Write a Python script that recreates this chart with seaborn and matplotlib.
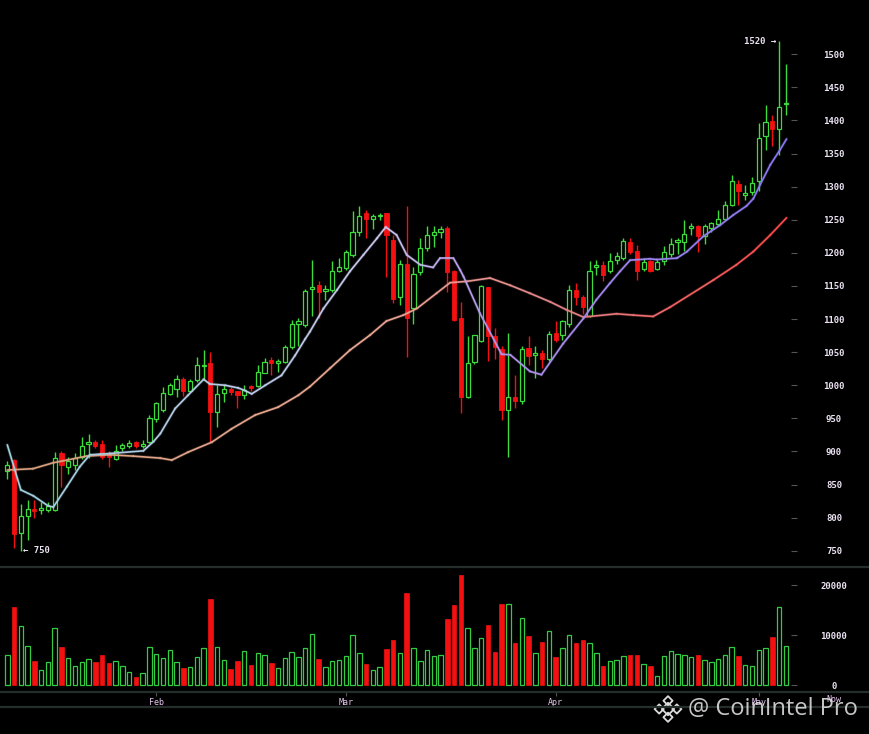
import numpy as np
import pandas as pd
import matplotlib.pyplot as plt
import matplotlib.colors as mcolors
from matplotlib.lines import Line2D
import seaborn as sns

# ------------------------------------------------------------
# data (daily candles, 10 Jan -> 5 May)
# ------------------------------------------------------------
opens = [871, 887, 777, 803, 813, 811, 811, 812, 898, 876, 880, 892, 911, 915, 911, 897, 888, 905, 908, 914,
         909, 915, 949, 962, 987, 995, 1010, 992, 1008, 1029, 1034, 960, 989, 995, 991, 985, 999, 999, 1019, 1038,
         1033, 1035, 1058, 1093, 1091, 1145, 1151, 1143, 1144, 1173, 1177, 1197, 1232, 1260, 1251, 1255, 1260, 1219, 1134, 1183,
         1117, 1171, 1207, 1227, 1232, 1237, 1173, 1102, 983, 1035, 1067, 1148, 1074, 1055, 963, 983, 976, 1056, 1045, 1049,
         1039, 1079, 1076, 1092, 1144, 1134, 1104, 1178, 1182, 1173, 1190, 1193, 1216, 1203, 1176, 1187, 1176, 1187, 1198, 1217,
         1217, 1238, 1240, 1226, 1238, 1243, 1251, 1273, 1304, 1288, 1292, 1308, 1376, 1399, 1387, 1425]
highs = [885, 889, 821, 827, 826, 823, 824, 899, 900, 891, 897, 922, 926, 917, 917, 900, 910, 913, 917, 916,
         917, 955, 975, 997, 1004, 1016, 1013, 1010, 1043, 1053, 1051, 1000, 1000, 997, 992, 1000, 1000, 1030, 1041, 1043,
         1040, 1061, 1098, 1101, 1146, 1189, 1158, 1152, 1187, 1192, 1204, 1263, 1271, 1265, 1258, 1260, 1260, 1227, 1189, 1271,
         1179, 1222, 1240, 1240, 1241, 1240, 1174, 1126, 1074, 1076, 1152, 1149, 1087, 1059, 1079, 1016, 1059, 1074, 1059, 1054,
         1082, 1097, 1099, 1151, 1154, 1137, 1187, 1190, 1188, 1200, 1201, 1223, 1222, 1212, 1192, 1189, 1191, 1211, 1223, 1222,
         1250, 1245, 1242, 1243, 1247, 1265, 1278, 1317, 1310, 1303, 1315, 1396, 1424, 1408, 1520, 1485]
lows = [858, 754, 750, 766, 800, 805, 808, 810, 847, 866, 872, 888, 890, 905, 888, 877, 887, 900, 905, 906,
        905, 913, 945, 960, 985, 982, 984, 990, 1005, 1008, 914, 937, 975, 986, 965, 980, 991, 997, 1018, 1015,
        1020, 1033, 1055, 1060, 1088, 1104, 1102, 1129, 1141, 1171, 1174, 1194, 1225, 1222, 1236, 1250, 1164, 1124, 1122, 1042,
        1092, 1167, 1203, 1209, 1223, 1141, 1097, 958, 981, 1032, 1065, 1036, 1040, 948, 891, 966, 972, 1031, 1011, 1026,
        1036, 1066, 1068, 1088, 1121, 1107, 1103, 1167, 1158, 1170, 1183, 1189, 1198, 1159, 1173, 1171, 1174, 1182, 1194, 1199,
        1203, 1227, 1201, 1214, 1232, 1241, 1250, 1271, 1272, 1280, 1287, 1293, 1355, 1362, 1348, 1409]
closes = [880, 776, 803, 813, 810, 814, 818, 890, 880, 885, 890, 908, 914, 908, 891, 892, 901, 910, 913, 908,
          912, 951, 973, 988, 1000, 1009, 992, 1006, 1030, 1031, 960, 987, 995, 990, 986, 993, 996, 1020, 1035, 1033,
          1036, 1058, 1093, 1097, 1143, 1148, 1141, 1146, 1173, 1178, 1202, 1232, 1256, 1251, 1256, 1256, 1227, 1131, 1183, 1101,
          1168, 1207, 1227, 1232, 1236, 1171, 1099, 983, 1034, 1076, 1150, 1075, 1058, 963, 983, 976, 1055, 1044, 1049, 1040,
          1077, 1069, 1097, 1144, 1134, 1119, 1173, 1181, 1167, 1188, 1195, 1218, 1201, 1172, 1186, 1173, 1186, 1201, 1213, 1219,
          1228, 1241, 1226, 1240, 1245, 1251, 1273, 1308, 1294, 1290, 1305, 1373, 1398, 1387, 1421, 1427]
volumes = [6070, 15670, 11870, 7940, 4870, 3070, 4600, 11400, 7740, 5470, 3870, 4600, 5270, 4670, 6000, 4470, 4940, 3870, 2730, 1670,
           2530, 7600, 6200, 5470, 7140, 4740, 3470, 3600, 5740, 7400, 17340, 7600, 5070, 3270, 4870, 6800, 4140, 6400, 6140, 4540,
           3400, 5470, 6600, 5740, 7470, 10200, 5340, 3600, 4940, 5070, 5940, 10000, 6400, 4340, 3070, 3740, 7200, 9070, 6400, 18400,
           7400, 4940, 7140, 5940, 6140, 13270, 16000, 22070, 11470, 7470, 9540, 12140, 6670, 16340, 16340, 8400, 13400, 9870, 6400, 8600,
           10870, 5670, 7470, 10000, 8400, 9070, 8400, 6400, 3870, 4940, 5070, 5940, 6000, 6000, 4200, 3800, 1940, 5870, 6940, 6270,
           6070, 5740, 6140, 5070, 4600, 5270, 6070, 7600, 5800, 4000, 3870, 7070, 7400, 9600, 15740, 7800]

# moving averages, read at the candle positions where the lines bend
fast_ma_x = [0, 2, 3.85, 6, 6.8, 8.8, 10.7, 12.2, 13.7, 15.2, 20.1, 21.6, 22.6, 24.8, 26.7, 29, 29.9, 32.2, 34.1, 35.1,
             36.1, 38.1, 40.5, 42.5, 44, 44.7, 46.7, 48.7, 50.6, 52.6, 54.6, 55.9, 57.5, 59, 61, 62.9, 63.9, 65.9, 66.9, 67.4,
             69.8, 73, 74.3, 77.2, 78.9, 82.1, 85.1, 87, 89, 90.5, 92, 94.9, 95.9, 98.9, 100.4, 102.8, 105.3, 107.2, 109.2, 110.2,
             111.2, 112.7, 114.1, 115.1]
fast_ma_y = [910, 842, 833, 818, 816, 847, 877, 895, 896, 897, 901, 915, 927, 965, 985, 1009, 1002, 1000, 996, 992,
             987, 1000, 1015, 1045, 1070, 1081, 1116, 1144, 1172, 1197, 1222, 1239, 1227, 1197, 1182, 1178, 1192, 1192, 1174, 1164,
             1109, 1047, 1046, 1021, 1016, 1063, 1101, 1129, 1154, 1172, 1189, 1191, 1190, 1192, 1202, 1225, 1242, 1257, 1271, 1282,
             1303, 1333, 1355, 1372]
slow_ma_x = [0, 3.8, 6.8, 8.8, 11.7, 15.2, 18.6, 22.6, 24.3, 26.7, 30.2, 33.1, 36.6, 40, 43, 44.7, 47.7, 50.6, 53.6, 56,
             58.5, 60.5, 63.4, 65.4, 67.9, 71.3, 74.3, 77.2, 80.2, 82.6, 85.1, 90, 92.5, 95.4, 97.9, 104.3, 107.7, 110.2, 112.7, 115.1]
slow_ma_y = [872, 874, 883, 887, 893, 895, 893, 890, 887, 899, 914, 934, 955, 967, 985, 998, 1026, 1053, 1076, 1097,
             1106, 1116, 1139, 1155, 1157, 1162, 1151, 1139, 1126, 1114, 1103, 1108, 1106, 1104, 1118, 1159, 1182, 1202, 1227, 1253]

month_pos = [22, 50, 81, 111]
month_labels = ['Feb', 'Mar', 'Apr', 'May']
price_ticks = list(range(750, 1501, 50))
volume_ticks = [0, 10000, 20000]

# ------------------------------------------------------------
# style
# ------------------------------------------------------------
sns.set_theme(style="dark", rc={"axes.facecolor": "black", "figure.facecolor": "black",
                                "savefig.facecolor": "black"})
plt.rcParams['font.family'] = ['DejaVu Sans Mono', 'DejaVu Sans']

UP = '#3ddc3d'
UP_VOL = '#33cc40'
DOWN = '#f41010'
TXT = '#ece2f2'
SEP = '#262e2b'

df = pd.DataFrame({'open': opens, 'high': highs, 'low': lows, 'close': closes, 'volume': volumes})
df['x'] = np.arange(len(df))
df['up'] = df['close'] >= df['open']

W, H = 870, 734
fig = plt.figure(figsize=(W / 100, H / 100), dpi=100)
right_px = 797
ax = fig.add_axes([0, 1 - 567 / H, right_px / W, 567 / H])
axv = fig.add_axes([0, 1 - 692 / H, right_px / W, (692 - 567) / H])

xlim = (-7.3 / 6.77, (right_px - 7.3) / 6.77)
for a in (ax, axv):
    a.set_facecolor('black')
    a.set_xlim(*xlim)
    for s in a.spines.values():
        s.set_visible(False)
    a.grid(False)

ax.set_ylim(725.5, 1582)
axv.set_ylim(-1340, 23660)

# ------------------------------------------------------------
# candles
# ------------------------------------------------------------
up = df[df['up']]
dn = df[~df['up']]
for part, col in ((up, UP), (dn, DOWN)):
    ax.vlines(part['x'], part['low'], part['high'], color=col, lw=1.0, zorder=2)

body_w = 0.62
dn_h = np.maximum((dn['open'] - dn['close']).values, 2.0)
ax.bar(dn['x'], dn_h, bottom=dn['close'], width=body_w, color=DOWN, edgecolor=DOWN, lw=0.6, zorder=3)
up_h = np.maximum((up['close'] - up['open']).values, 2.0)
ax.bar(up['x'], up_h, bottom=up['open'], width=body_w, color='black', edgecolor=UP, lw=0.9, zorder=3)


# moving averages with a colour drift from left to right
def gradient_line(axis, xs, ys, stops, lw):
    cmap = mcolors.LinearSegmentedColormap.from_list('g', stops)
    rows = []
    for k in range(len(xs) - 1):
        rows.append((k, xs[k], ys[k]))
        rows.append((k, xs[k + 1], ys[k + 1]))
    seg = pd.DataFrame(rows, columns=['seg', 'x', 'y'])
    pal = {k: cmap(((xs[k] + xs[k + 1]) / 2) / 115) for k in range(len(xs) - 1)}
    sns.lineplot(data=seg, x='x', y='y', hue='seg', palette=pal, estimator=None, sort=False,
                 legend=False, linewidth=lw * 2.0, alpha=0.18, ax=axis, zorder=4)
    sns.lineplot(data=seg, x='x', y='y', hue='seg', palette=pal, estimator=None, sort=False,
                 legend=False, linewidth=lw, ax=axis, zorder=5, solid_capstyle='round')


gradient_line(ax, slow_ma_x, slow_ma_y,
              [(0, '#d6a07e'), (0.45, '#eca894'), (0.7, '#e4878a'), (1, '#ff4848')], 1.2)
gradient_line(ax, fast_ma_x, fast_ma_y,
              [(0, '#9fd0de'), (0.48, '#c9c8ee'), (0.62, '#b294ea'), (1, '#8a78f4')], 1.2)

ax.text(114 - 0.35, 1520, '1520 \u2192', ha='right', va='center', color=TXT,
        fontsize=6.5, fontweight='bold')
ax.text(2 + 0.3, 750, '\u2190 750', ha='left', va='center', color=TXT,
        fontsize=6.5, fontweight='bold')

# ------------------------------------------------------------
# volume
# ------------------------------------------------------------
vol_w = 0.66
axv.bar(dn['x'], dn['volume'], width=vol_w, color=DOWN, edgecolor=DOWN, lw=0.5)
axv.bar(up['x'], up['volume'], width=vol_w, color='black', edgecolor=UP_VOL, lw=0.9)

# ------------------------------------------------------------
# axes / ticks
# ------------------------------------------------------------
pad_pt = (834 - right_px) * 0.72
ax.yaxis.tick_right()
ax.set_yticks(price_ticks)
ax.set_yticklabels([str(t) for t in price_ticks], ha='center')
ax.tick_params(axis='y', direction='in', length=4, width=0.8, color='#555555',
               labelcolor=TXT, labelsize=6.5, pad=pad_pt, right=True, left=False)
ax.set_xticks([])
ax.set_xlabel('')
ax.set_ylabel('')
for t in ax.get_yticklabels():
    t.set_fontweight('bold')

axv.yaxis.tick_right()
axv.set_yticks(volume_ticks)
axv.set_yticklabels([str(t) for t in volume_ticks], ha='center')
axv.tick_params(axis='y', direction='in', length=4, width=0.8, color='#555555',
                labelcolor=TXT, labelsize=6.5, pad=pad_pt, right=True, left=False)
for t in axv.get_yticklabels():
    t.set_fontweight('bold')
axv.set_xticks(month_pos)
axv.set_xticklabels(month_labels)
axv.tick_params(axis='x', direction='out', length=3, width=0.8, color='#555555',
                labelcolor='#e6c6ee', labelsize=6, pad=1.5, bottom=True)
axv.set_xlabel('')
axv.set_ylabel('')
fig.text(834 / W, 1 - 700 / H, 'Now', ha='center', va='center', color='#e6c6ee', fontsize=6)

# separator lines
for ypx in (567, 692, 707):
    fig.add_artist(Line2D([0, 1], [1 - ypx / H] * 2, color=SEP, lw=1.6, transform=fig.transFigure))

# watermark
fig.text(688 / W, 1 - 709 / H, '@ CoinIntel Pro', ha='left', va='center', color='#dcdcdc',
         alpha=0.9, fontsize=17, family=['Open Sans', 'DejaVu Sans'])
logo = fig.add_axes([653 / W, 1 - 723 / H, 30 / W, 28 / H])
logo.set_axis_off()
logo.scatter([0, 1, -1, 0, 0], [0, 0, 0, 1, -1], marker='D', s=[40, 22, 22, 22, 22],
             facecolor='none', edgecolor='#dcdcdc', linewidths=1.3)
logo.set_xlim(-1.7, 1.7)
logo.set_ylim(-1.7, 1.7)

fig.savefig('out.png', dpi=100, facecolor='black')
